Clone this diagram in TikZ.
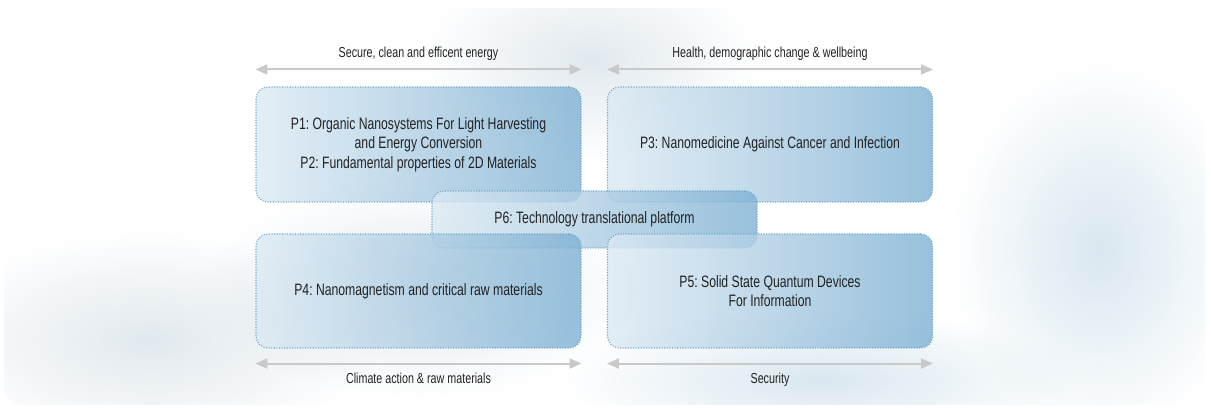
\documentclass[tikz,border=0pt]{standalone}
\usepackage{fontspec}
\setmainfont[FakeStretch=0.74]{Liberation Sans}
\usetikzlibrary{arrows.meta,fadings}

\definecolor{boxlight}{HTML}{DCEAF4}
\definecolor{boxdark}{HTML}{7FB1D3}
\definecolor{dotblue}{HTML}{6EA7C8}
\definecolor{arrowgrey}{HTML}{C9C9C9}
\definecolor{txtgrey}{HTML}{222222}
\definecolor{washgrey}{HTML}{C3D2DC}
\definecolor{washblue}{HTML}{B3CFE0}
\tikzfading[name=softwash, inner color=transparent!50, outer color=transparent!100]

\tikzset{
  theme/.style={rounded corners=12pt, draw=dotblue, line width=1.1pt,
    dash pattern=on 1.1pt off 1.5pt,
    left color=boxlight, right color=boxdark, fill opacity=0.8, text opacity=1,
    minimum width=325pt, align=center, text=txtgrey,
    font=\fontsize{16.5}{19.5}\selectfont},
  axisarrow/.style={draw=arrowgrey, line width=2pt,
    {Triangle[length=12pt,width=10pt]}-{Triangle[length=12pt,width=10pt]}},
  axislabel/.style={font=\fontsize{14.5}{16}\selectfont, text=txtgrey}
}

\begin{document}
\frenchspacing
\begin{tikzpicture}[x=1pt,y=-1pt]
\useasboundingbox (0,0) rectangle (1211,411);

% watercolour wash behind everything
\begin{scope}
\clip[rounded corners=18pt] (4,8) rectangle (1205,405);
\fill[washgrey, path fading=softwash] (590,60) ellipse (170pt and 100pt);
\fill[washgrey, path fading=softwash] (150,340) ellipse (230pt and 110pt);
\fill[washblue, path fading=softwash] (820,380) ellipse (260pt and 70pt);
\fill[washblue, path fading=softwash] (1100,250) ellipse (150pt and 190pt);
\fill[washgrey, path fading=softwash] (420,290) ellipse (220pt and 110pt);
\end{scope}

% themes
\node[theme, minimum height=115pt] (p1) at (418.5,144.5)
  {P1: Organic Nanosystems For Light Harvesting\\ and Energy Conversion\\ P2: Fundamental properties of 2D Materials};
\node[theme, minimum height=115pt] (p3) at (770,144.5)
  {P3: Nanomedicine Against Cancer and Infection};
\node[theme, minimum height=57pt] (p6) at (594.5,219.5)
  {P6: Technology translational platform};
\node[theme, minimum height=114pt] (p4) at (418.5,291)
  {P4: Nanomagnetism and critical raw materials};
\node[theme, minimum height=114pt] (p5) at (770,291)
  {P5: Solid State Quantum Devices\\ For Information};

% challenge axes
\draw[axisarrow] ([yshift=17pt]p1.north west) -- ([yshift=17pt]p1.north east)
  node[axislabel, midway, above=5pt] (energy) {Secure, clean and efficent energy};
\draw[axisarrow] ([yshift=17pt]p3.north west) -- ([yshift=17pt]p3.north east)
  node[axislabel, midway, above=5pt] (health) {Health, demographic change \& wellbeing};
\draw[axisarrow] ([yshift=-15pt]p4.south west) -- ([yshift=-15pt]p4.south east)
  node[axislabel, midway, below=5pt] (climate) {Climate action \& raw materials};
\draw[axisarrow] ([yshift=-15pt]p5.south west) -- ([yshift=-15pt]p5.south east)
  node[axislabel, midway, below=5pt] (security) {Security};
\end{tikzpicture}
\end{document}
